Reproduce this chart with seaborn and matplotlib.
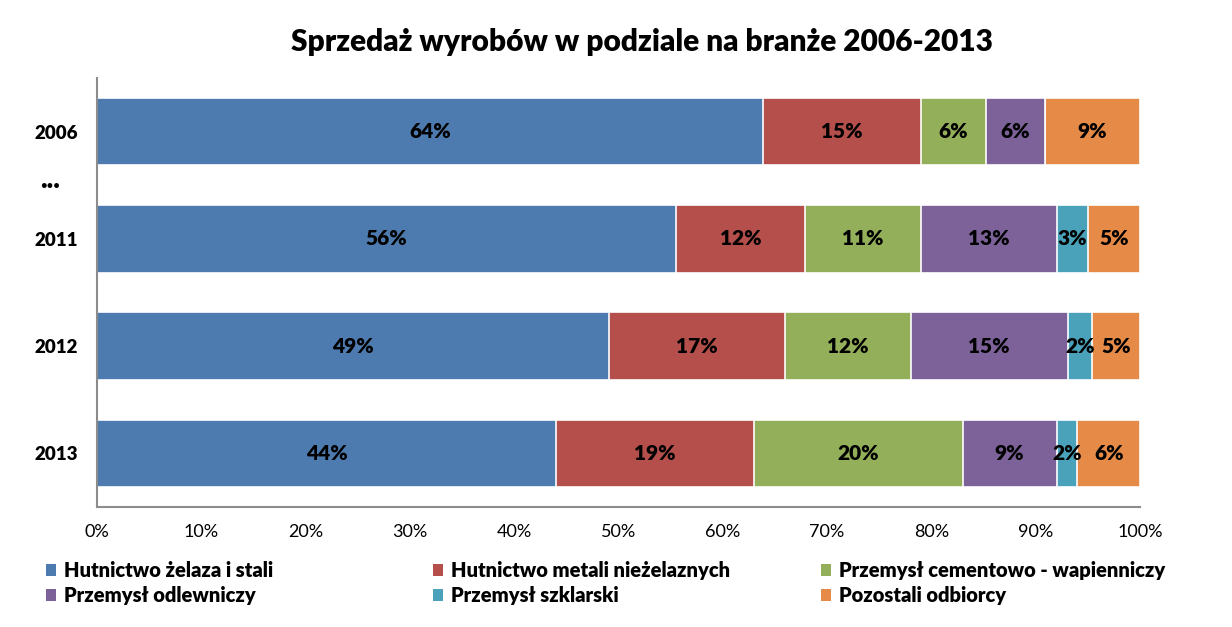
import matplotlib
matplotlib.use('Agg')
import matplotlib.pyplot as plt
import matplotlib.transforms as mtransforms
from matplotlib.patches import Patch
import seaborn as sns
import numpy as np

years = ['2006', '2011', '2012', '2013']
series_names = ['Hutnictwo żelaza i stali', 'Hutnictwo metali nieżelaznych',
                'Przemysł cementowo - wapienniczy', 'Przemysł odlewniczy',
                'Przemysł szklarski', 'Pozostali odbiorcy']
hutnictwo_zelaza = [63.9, 55.5, 49.1, 44.0]
hutnictwo_metali = [15.1, 12.4, 16.9, 19.0]
cementowo_wapienniczy = [6.2, 11.1, 12.0, 20.0]
odlewniczy = [5.7, 13.0, 15.1, 9.0]
szklarski = [0.0, 3.0, 2.3, 2.0]
pozostali = [9.1, 5.0, 4.6, 6.0]
x_ticks = [0, 10, 20, 30, 40, 50, 60, 70, 80, 90, 100]
x_tick_labels = [f'{t}%' for t in x_ticks]

colors = ['#4E7BAF', '#B54F4C', '#94AF59', '#7C6299', '#4AA2BA', '#E68B47']

FONT = 'Lato'
W = 'heavy'
sns.set_theme(style='white')
plt.rcParams['font.family'] = [FONT, 'DejaVu Sans']
plt.rcParams['text.color'] = 'black'
plt.rcParams['xtick.color'] = 'black'
plt.rcParams['ytick.color'] = 'black'

series = [hutnictwo_zelaza, hutnictwo_metali, cementowo_wapienniczy,
          odlewniczy, szklarski, pozostali]
vals = np.array(series)
cum = np.cumsum(vals, axis=0)

fig = plt.figure(figsize=(12.32, 6.27), dpi=100)
ax = fig.add_axes([97 / 1232, 1 - 507 / 627, (1140 - 97) / 1232, (507 - 78) / 627])

for i in reversed(range(len(series))):
    sns.barplot(x=cum[i], y=years, color=colors[i], orient='h', width=0.63,
                edgecolor='white', linewidth=1.2, ax=ax, saturation=1)

# data labels
for i in range(len(series)):
    for j in range(len(years)):
        v = vals[i, j]
        if v <= 0:
            continue
        center = cum[i, j] - v / 2
        ax.text(center, j, f'{int(round(v))}%', ha='center', va='center',
                fontsize=15, fontweight=W, color='black')

ax.set_xlim(0, 100)
ax.set_ylim(len(years) - 0.5, -0.5)
ax.set_xticks(x_ticks)
ax.set_xticklabels(x_tick_labels, fontsize=13)
ax.set_yticks(range(len(years)))
ax.set_yticklabels(years, fontsize=13.5, fontweight=W)
ax.tick_params(axis='x', length=0, pad=12)
ax.tick_params(axis='y', length=0, pad=14)
ax.set_xlabel('')
ax.set_ylabel('')
for s in ['top', 'right']:
    ax.spines[s].set_visible(False)
for s in ['left', 'bottom']:
    ax.spines[s].set_color('#8C8C8C')
    ax.spines[s].set_linewidth(1.5)

# ellipsis between 2006 and 2011
trans = mtransforms.blended_transform_factory(ax.transAxes, ax.transData)
ax.text(-0.0355, 0.53, '...', transform=trans, ha='right', va='baseline',
        fontsize=20, fontweight=W)

fig.text(642 / 1232, 1 - 42 / 627, 'Sprzedaż wyrobów w podziale na branże 2006-2013',
         ha='center', va='center', fontsize=21.5, fontweight=W)

# legend: three columns of two entries, laid out row-wise
col_x = [46 / 1232, 433 / 1232, 821 / 1232]
for c in range(3):
    idx = [c, c + 3]
    handles = [Patch(facecolor=colors[k], edgecolor='none') for k in idx]
    labels = [series_names[k] for k in idx]
    fig.legend(handles, labels, loc='upper left',
               bbox_to_anchor=(col_x[c], 1 - 561 / 627), frameon=False,
               borderpad=0, borderaxespad=0, handlelength=0.5, handleheight=0.5,
               handletextpad=0.4, labelspacing=0.3,
               prop={'family': [FONT, 'DejaVu Sans'], 'weight': W, 'size': 14.5})

fig.savefig('out.png', dpi=100)
